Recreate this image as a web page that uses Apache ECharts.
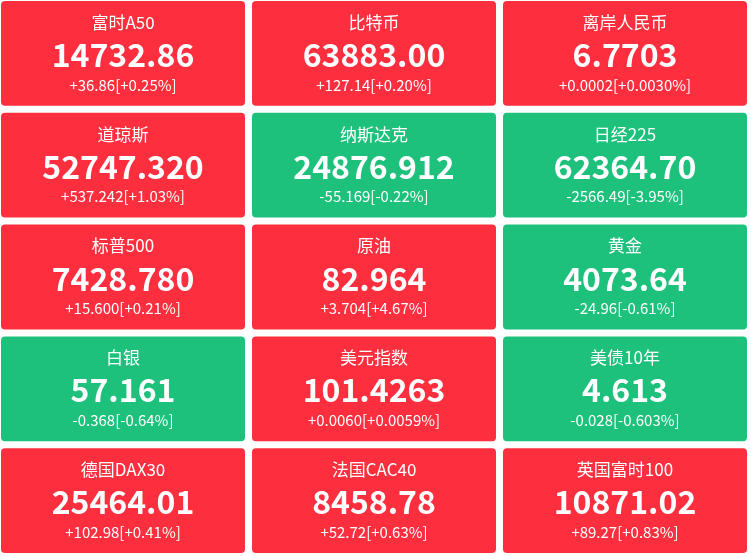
<!DOCTYPE html>
<html><head><meta charset="utf-8">
<script src="https://cdn.jsdelivr.net/npm/echarts@6/dist/echarts.min.js"></script>
<style>html,body{margin:0;padding:0;background:#fff}#c{width:751px;height:556px}</style>
</head><body><div id="c"></div>
<script>
const names = ['富时A50','比特币','离岸人民币','道琼斯','纳斯达克','日经225','标普500','原油','黄金','白银','美元指数','美债10年','德国DAX30','法国CAC40','英国富时100'];
const prices = ['14732.86','63883.00','6.7703','52747.320','24876.912','62364.70','7428.780','82.964','4073.64','57.161','101.4263','4.613','25464.01','8458.78','10871.02'];
const changes = ['+36.86','+127.14','+0.0002','+537.242','-55.169','-2566.49','+15.600','+3.704','-24.96','-0.368','+0.0060','-0.028','+102.98','+52.72','+89.27'];
const pcts = ['+0.25%','+0.20%','+0.0030%','+1.03%','-0.22%','-3.95%','+0.21%','+4.67%','-0.61%','-0.64%','+0.0059%','-0.603%','+0.41%','+0.63%','+0.83%'];
const COLS = 3;
const RED = '#fd2e3e', GREEN = '#1dc17c';
const data = names.map((n,i)=>[i%COLS, Math.floor(i/COLS), i]);
const FONT = '"Microsoft YaHei","Noto Sans CJK SC",sans-serif';
const chart = echarts.init(document.getElementById('c'));
chart.setOption({
  animation:false,
  grid:{left:1, top:1, width:753, height:559, outerBoundsMode:'none', containLabel:false},
  xAxis:{type:'value', min:0, max:3, show:false},
  yAxis:{type:'value', min:0, max:5, inverse:true, show:false},
  series:[{
    type:'custom',
    data:data,
    renderItem:function(params, api){
      const i = api.value(2);
      const p = api.coord([api.value(0), api.value(1)]);
      const s = api.size([1,1]);
      const w = s[0]-7, h = s[1]-7;
      const up = changes[i].charAt(0) !== '-';
      const cx = p[0]+w/2, cy = p[1]+h/2;
      return {type:'group', children:[
        {type:'rect', shape:{x:p[0], y:p[1], width:w, height:h, r:4}, style:{fill: up?RED:GREEN}},
        {type:'text', style:{x:cx, y:cy-31, text:names[i], fill:'#fff', font:'17px '+FONT, align:'center', verticalAlign:'middle'}},
        {type:'text', style:{x:cx, y:cy+1.5, text:prices[i], fill:'#fff', font:'bold 32px '+FONT, align:'center', verticalAlign:'middle'}},
        {type:'text', style:{x:cx, y:cy+31.5, text:changes[i]+'['+pcts[i]+']', fill:'#fff', font:'15px '+FONT, align:'center', verticalAlign:'middle'}}
      ]};
    }
  }]
});
</script></body></html>
